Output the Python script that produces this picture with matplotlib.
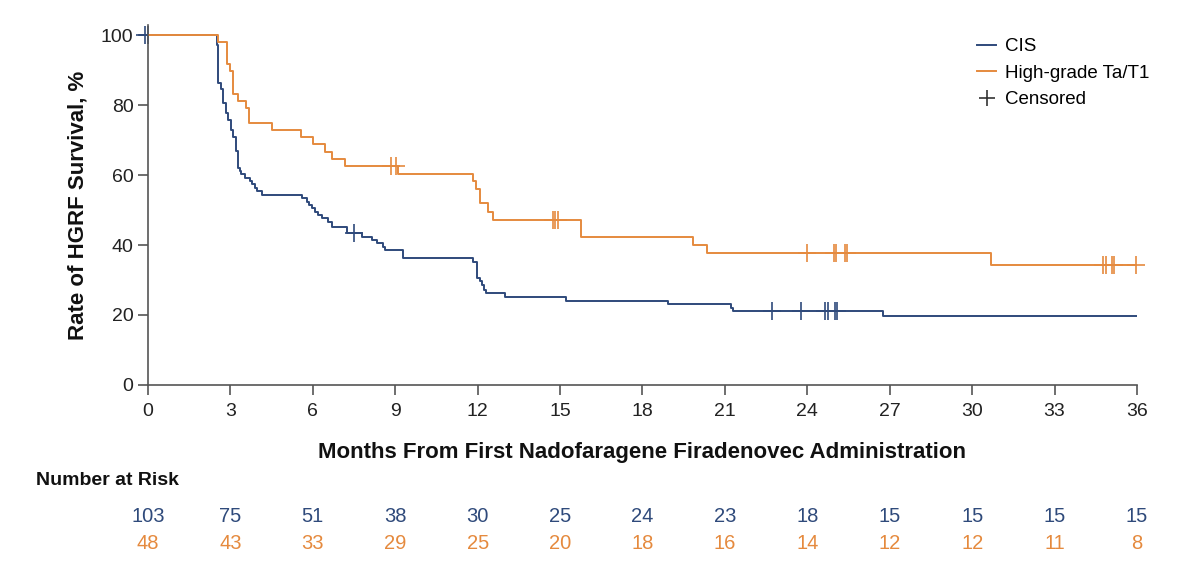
import numpy as np
import matplotlib
matplotlib.use("Agg")
import matplotlib.pyplot as plt
from matplotlib.lines import Line2D
from matplotlib.transforms import blended_transform_factory

plt.rcParams['font.family'] = ['Liberation Sans', 'DejaVu Sans']

BLUE = "#2f4a7b"
ORANGE = "#e58a3e"

# Kaplan-Meier steps (months, % HGRF-free)
cis_time = [0, 2.52, 2.56, 2.66, 2.74, 2.83, 2.92, 3.02, 3.11, 3.20, 3.29, 3.35, 3.39,
            3.55, 3.71, 3.77, 3.90, 3.96, 4.16, 5.59, 5.78, 5.86, 5.96, 6.08, 6.20,
            6.32, 6.56, 6.69, 7.23, 7.78, 8.14, 8.33, 8.57, 8.63, 9.29, 11.82, 11.99,
            12.09, 12.15, 12.23, 12.30, 13.0, 15.22, 18.94, 21.22, 21.30, 26.75, 36.0]
cis_surv = [100, 97.1, 86.4, 84.5, 80.6, 77.7, 75.7, 72.8, 70.9, 67.0, 62.1, 61.2, 60.2,
            59.2, 58.3, 57.3, 56.3, 55.3, 54.4, 53.4, 52.4, 51.5, 50.5, 49.5, 48.5,
            47.6, 46.6, 45.2, 43.3, 42.4, 41.4, 40.5, 39.5, 38.6, 36.2, 35.2, 30.5,
            29.8, 28.6, 27.1, 26.2, 25.2, 24.1, 23.1, 21.9, 21.2, 19.7, 19.7]
cis_censor = [-0.1, 0.0, 7.5, 22.7, 23.77, 24.66, 24.74, 24.99, 25.07]

hg_time = [0, 2.56, 2.89, 2.98, 3.08, 3.26, 3.57, 3.68, 4.50, 5.57, 6.02, 6.44, 6.69,
           7.17, 9.11, 11.84, 11.95, 12.08, 12.39, 12.57, 15.75, 19.85, 20.34, 30.68, 36.0]
hg_surv = [100, 97.9, 91.7, 89.6, 83.3, 81.3, 79.2, 75.0, 72.9, 70.8, 68.8, 66.7, 64.6,
           62.5, 60.4, 58.4, 55.9, 51.9, 49.4, 47.1, 42.4, 40.0, 37.6, 34.3, 34.3]
hg_censor = [8.85, 9.02, 14.75, 14.83, 14.91, 23.98, 24.97, 25.05, 25.38, 25.46,
             34.77, 34.86, 35.08, 35.15, 35.97]

risk_months = [0, 3, 6, 9, 12, 15, 18, 21, 24, 27, 30, 33, 36]
cis_risk = [103, 75, 51, 38, 30, 25, 24, 23, 18, 15, 15, 15, 15]
hg_risk = [48, 43, 33, 29, 25, 20, 18, 16, 14, 12, 12, 11, 8]


def surv_at(times, surv, t):
    idx = np.searchsorted(times, t, side='right') - 1
    return np.asarray(surv)[np.clip(idx, 0, None)]


fig = plt.figure(figsize=(12, 5.77), dpi=100)
ax = fig.add_axes([0.1233, 0.3328, 0.8242, 0.624])

for times, surv, cens, col in [(cis_time, cis_surv, cis_censor, BLUE),
                               (hg_time, hg_surv, hg_censor, ORANGE)]:
    ax.step(times, surv, where='post', color=col, lw=1.4)
    ax.plot(cens, surv_at(times, surv, cens), linestyle='none', marker='+',
            markersize=13, mew=1.2, color=col, clip_on=False)

ax.set_xlim(0, 36)
ax.set_ylim(0, 102.9)
ax.set_xticks(range(0, 37, 3))
ax.set_yticks(range(0, 101, 20))
ax.spines['top'].set_visible(False)
ax.spines['right'].set_visible(False)
for s in ('left', 'bottom'):
    ax.spines[s].set_color('#555555')
    ax.spines[s].set_linewidth(1.2)
ax.tick_params(axis='both', direction='out', length=7, width=1.2, color='#555555',
               labelsize=14, labelcolor='#222222')
ax.tick_params(axis='x', pad=6)

ax.set_xlabel("Months From First Nadofaragene Firadenovec Administration",
              fontsize=16, fontweight='bold', labelpad=16, color='#111111')
ax.set_ylabel("Rate of HGRF Survival, %", fontsize=16, fontweight='bold',
              labelpad=9, color='#111111')

handles = [Line2D([], [], color=BLUE, lw=1.4),
           Line2D([], [], color=ORANGE, lw=1.4),
           Line2D([], [], color='#333333', marker='+', linestyle='none',
                  markersize=12, mew=1.2)]
ax.legend(handles, ["CIS", "High-grade Ta/T1", "Censored"], loc='upper right',
          bbox_to_anchor=(1.03, 1.01), frameon=False, fontsize=13.5,
          handlelength=1.0, handletextpad=0.5, labelspacing=0.5)

fig.text(0.03, 0.168, "Number at Risk", fontsize=14, fontweight='bold',
         ha='left', va='center', color='#111111')
tr = blended_transform_factory(ax.transData, fig.transFigure)
for m, a, b in zip(risk_months, cis_risk, hg_risk):
    ax.text(m, 0.104, str(a), transform=tr, ha='center', va='center',
            fontsize=14.5, color=BLUE)
    ax.text(m, 0.058, str(b), transform=tr, ha='center', va='center',
            fontsize=14.5, color=ORANGE)

fig.savefig("out.png", dpi=100)
